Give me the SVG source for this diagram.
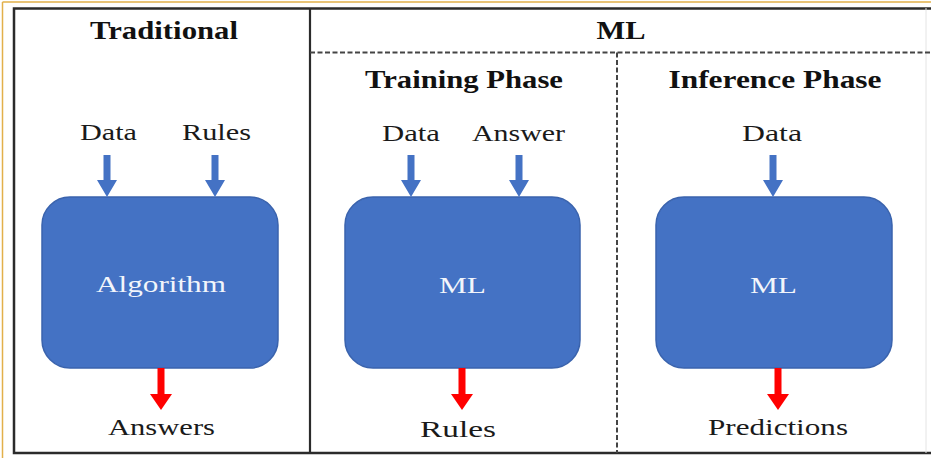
<svg xmlns="http://www.w3.org/2000/svg" width="931" height="458" viewBox="0 0 931 458">
<style>
.frame{fill:none;stroke:#2b2b2b;stroke-width:2.5}
.dash{fill:none;stroke:#444;stroke-width:2;stroke-dasharray:5 2.5}
.box{fill:#4472C4;stroke:#3a63ad;stroke-width:1.5}
.title{font-family:"Liberation Serif","Times New Roman",serif;font-weight:bold;font-size:26px;fill:#111;text-anchor:middle}
.lbl{font-family:"Liberation Serif","Times New Roman",serif;font-size:24px;fill:#1a1a1a;text-anchor:middle}
.in{font-family:"Liberation Serif","Times New Roman",serif;font-size:23px;fill:#f2f5fb;text-anchor:middle}
.blue{fill:#4472C4}
.red{fill:#FF0000}
</style>
<rect x="0" y="0" width="931" height="458" fill="#ffffff"/>
<g id="border">
<line x1="2.5" y1="2" x2="931" y2="2" stroke="#e2b04a" stroke-width="1.5"/>
<line x1="2.5" y1="2" x2="2.5" y2="458" stroke="#e2b04a" stroke-width="1.5"/>
<polyline class="frame" points="931,8.5 14,8.5 14,453 931,453"/>
<line x1="926" y1="8" x2="926" y2="453" stroke="#e4e4e4" stroke-width="1"/>
<line x1="310" y1="8.5" x2="310" y2="453" stroke="#2b2b2b" stroke-width="2.2"/>
<line class="dash" x1="310" y1="52.5" x2="931" y2="52.5"/>
<line class="dash" x1="617" y1="52.5" x2="617" y2="453"/>
</g>
<g id="headers">
<text class="title" x="164" y="39" textLength="148" lengthAdjust="spacingAndGlyphs">Traditional</text>
<text class="title" x="621" y="39" textLength="49" lengthAdjust="spacingAndGlyphs">ML</text>
<text class="title" x="464" y="88" textLength="198" lengthAdjust="spacingAndGlyphs">Training Phase</text>
<text class="title" x="775" y="88" textLength="213" lengthAdjust="spacingAndGlyphs">Inference Phase</text>
</g>
<g id="trad-inputs">
<text class="lbl" x="108.5" y="140" textLength="57" lengthAdjust="spacingAndGlyphs">Data</text>
<text class="lbl" x="216.5" y="140" textLength="69" lengthAdjust="spacingAndGlyphs">Rules</text>
</g>
<g id="trad-algorithm">
<rect class="box" x="42" y="197" width="236" height="171" rx="28"/>
<text class="in" x="161" y="292" textLength="130" lengthAdjust="spacingAndGlyphs">Algorithm</text>
</g>
<g id="trad-output">
<text class="lbl" x="161.5" y="435" textLength="107" lengthAdjust="spacingAndGlyphs">Answers</text>
</g>
<g id="train-inputs">
<text class="lbl" x="411" y="141" textLength="58" lengthAdjust="spacingAndGlyphs">Data</text>
<text class="lbl" x="518.5" y="141" textLength="93" lengthAdjust="spacingAndGlyphs">Answer</text>
</g>
<g id="train-ml">
<rect class="box" x="345" y="197" width="235" height="171" rx="28"/>
<text class="in" x="462.5" y="293" textLength="47" lengthAdjust="spacingAndGlyphs">ML</text>
</g>
<g id="train-output">
<text class="lbl" x="458" y="437" textLength="76" lengthAdjust="spacingAndGlyphs">Rules</text>
</g>
<g id="inf-input">
<text class="lbl" x="772" y="141" textLength="60" lengthAdjust="spacingAndGlyphs">Data</text>
</g>
<g id="inf-ml">
<rect class="box" x="656" y="197" width="236" height="171" rx="28"/>
<text class="in" x="773.5" y="293" textLength="47" lengthAdjust="spacingAndGlyphs">ML</text>
</g>
<g id="inf-output">
<text class="lbl" x="778" y="435" textLength="140" lengthAdjust="spacingAndGlyphs">Predictions</text>
</g>
<g id="connectors">
<polygon class="blue" points="103.5,155 110.5,155 110.5,180 117,180 107,197 97,180 103.5,180"/>
<polygon class="blue" points="211.5,155 218.5,155 218.5,180 225,180 215,197 205,180 211.5,180"/>
<polygon class="blue" points="407.5,155 414.5,155 414.5,180 421,180 411,197 401,180 407.5,180"/>
<polygon class="blue" points="515.5,155 522.5,155 522.5,180 529,180 519,197 509,180 515.5,180"/>
<polygon class="blue" points="769.5,155 776.5,155 776.5,180 783,180 773,197 763,180 769.5,180"/>
<polygon class="red" points="157.5,368 164.5,368 164.5,394 172,394 161,410 150,394 157.5,394"/>
<polygon class="red" points="458.5,368 465.5,368 465.5,394 473,394 462,410 451,394 458.5,394"/>
<polygon class="red" points="774.5,368 781.5,368 781.5,394 789,394 778,410 767,394 774.5,394"/>
</g>
</svg>
